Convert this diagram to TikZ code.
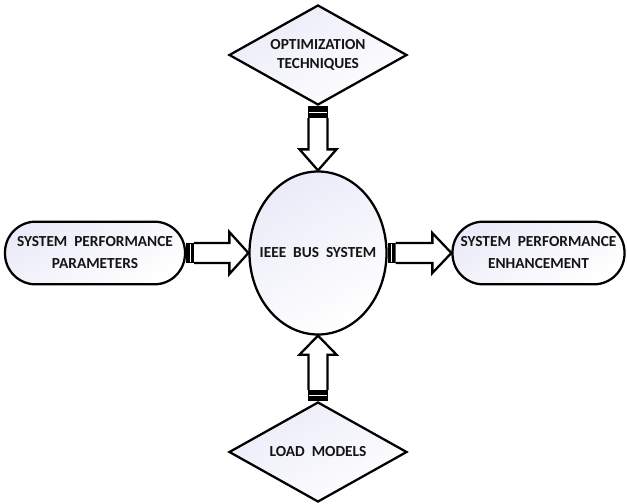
\documentclass[tikz,border=0pt]{standalone}
\usepackage{fontspec}
\setmainfont{Carlito}
\usetikzlibrary{shapes.geometric,calc}
\definecolor{lav}{RGB}{234,235,248}
\definecolor{ink}{RGB}{20,20,20}
\begin{document}
\begin{tikzpicture}[x=0.75pt,y=-0.75pt,
  shp/.style={draw=black,line width=1.7pt,top color=lav,bottom color=white,shading angle=30,inner sep=0pt},
  dia/.style={shp,diamond,aspect=1.78,minimum width=133.5pt,minimum height=75pt},
  ell/.style={shp,ellipse,minimum width=102.75pt,minimum height=122.25pt},
  pill/.style={shp,rectangle,rounded corners=23pt,minimum height=47pt},
  txt/.style={font=\bfseries\fontsize{11.5}{13.8}\selectfont,text=ink,align=center,inner sep=0pt},
  ptxt/.style={txt,font=\bfseries\fontsize{11.5}{16.5}\selectfont},
  blk/.style={draw=black,line width=1.7pt,fill=white,line join=miter},
  stub/.style={fill=black},
  stubline/.style={draw=white,line width=0.6pt}]
\useasboundingbox (0,0) rectangle (627,503);

\node[dia]  (opt)  at (318,55)  {};
\node[ell]  (bus)  at (318,253) {};
\node[pill,minimum width=135pt] (spp) at (95,253) {};
\node[pill,minimum width=129pt] (spe) at (538.5,253) {};
\node[dia]  (load) at (318,452) {};

\node[txt]  (optt)  at (opt.center)  {OPTIMIZATION\\TECHNIQUES};
\node[txt]  (bust)  at (bus.center)  {IEEE\ \ BUS\ \ SYSTEM};
\node[ptxt] (sppt)  at (spp.center)  {SYSTEM\ \ PERFORMANCE\\PARAMETERS};
\node[ptxt] (spet)  at (spe.center)  {SYSTEM\ \ PERFORMANCE\\ENHANCEMENT};
\node[txt]  (loadt) at (load.center) {LOAD\ \ MODELS};

% top arrow
\fill[stub] ($(opt.south)+(-10,0)$) rectangle ($(opt.south)+(10,12)$);
\draw[stubline] ($(opt.south)+(-9,6)$) -- ($(opt.south)+(9,6)$);
\draw[blk] ($(opt.south)+(-9.5,12)$) -- ($(bus.north)+(-9.5,-21)$) -- ($(bus.north)+(-18.5,-21)$)
  -- (bus.north) -- ($(bus.north)+(18.5,-21)$) -- ($(bus.north)+(9.5,-21)$) -- ($(opt.south)+(9.5,12)$);

% bottom arrow
\fill[stub] ($(load.north)+(-10,0)$) rectangle ($(load.north)+(10,-11)$);
\draw[stubline] ($(load.north)+(-9,-5.5)$) -- ($(load.north)+(9,-5.5)$);
\draw[blk] ($(load.north)+(-9.5,-11)$) -- ($(bus.south)+(-9.5,19)$) -- ($(bus.south)+(-18.5,19)$)
  -- (bus.south) -- ($(bus.south)+(18.5,19)$) -- ($(bus.south)+(9.5,19)$) -- ($(load.north)+(9.5,-11)$);

% left arrow
\fill[stub] ($(spp.east)+(0,-10)$) rectangle ($(spp.east)+(8,10)$);
\draw[stubline] ($(spp.east)+(4,-9)$) -- ($(spp.east)+(4,9)$);
\draw[blk] ($(spp.east)+(8,-10)$) -- ($(bus.west)+(-19,-10)$) -- ($(bus.west)+(-19,-21)$)
  -- (bus.west) -- ($(bus.west)+(-19,21)$) -- ($(bus.west)+(-19,10)$) -- ($(spp.east)+(8,10)$);

% right arrow
\fill[stub] ($(bus.east)+(0,-10)$) rectangle ($(bus.east)+(8,10)$);
\draw[stubline] ($(bus.east)+(4,-9)$) -- ($(bus.east)+(4,9)$);
\draw[blk] ($(bus.east)+(8,-10)$) -- ($(spe.west)+(-19,-10)$) -- ($(spe.west)+(-19,-20)$)
  -- (spe.west) -- ($(spe.west)+(-19,20)$) -- ($(spe.west)+(-19,10)$) -- ($(bus.east)+(8,10)$);
\end{tikzpicture}
\end{document}
